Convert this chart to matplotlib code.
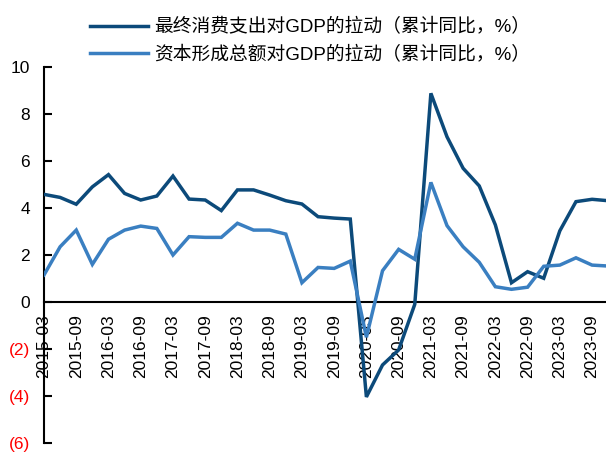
import matplotlib

matplotlib.use("Agg")
import matplotlib.pyplot as plt
from matplotlib.ticker import FixedLocator, FuncFormatter, MultipleLocator

plt.rcParams["font.family"] = ["Liberation Sans", "Noto Sans CJK SC", "DejaVu Sans"]

QUARTERS = [f"{y}-{m:02d}" for y in range(2015, 2024) for m in (3, 6, 9, 12)]

CONSUMPTION = [
    4.58, 4.45, 4.16, 4.90,  # 2015
    5.42, 4.62, 4.34, 4.51,  # 2016
    5.36, 4.38, 4.34, 3.89,  # 2017
    4.77, 4.77, 4.55, 4.31,  # 2018
    4.17, 3.63, 3.57, 3.53,  # 2019
    -4.04, -2.68, -2.04, -0.10,  # 2020
    8.88, 7.03, 5.69, 4.94,  # 2021
    3.28, 0.82, 1.29, 1.01,  # 2022
    3.03, 4.27, 4.37, 4.31,  # 2023
]
CAPITAL = [
    1.15, 2.35, 3.06, 1.60,
    2.67, 3.06, 3.23, 3.13,
    2.00, 2.78, 2.75, 2.75,
    3.35, 3.06, 3.06, 2.89,
    0.82, 1.47, 1.43, 1.74,
    -1.50, 1.33, 2.24, 1.82,
    5.09, 3.25, 2.35, 1.69,
    0.65, 0.54, 0.63, 1.52,
    1.57, 1.88, 1.57, 1.53,
]
LABELS = [
    "最终消费支出对GDP的拉动（累计同比，%）",
    "资本形成总额对GDP的拉动（累计同比，%）",
]
COLORS = ["#0c4a7a", "#3a7fc1"]


def y_label(v, _pos):
    v = int(round(v))
    return f"({abs(v)})" if v < 0 else f"{v}"


def main():
    w, h = 606, 454
    dpi = 100
    fig = plt.figure(figsize=(w / dpi, h / dpi), dpi=dpi)
    ax = fig.add_axes([44 / w, 11 / h, 1 - 44 / w, 376 / h])

    x = list(range(len(QUARTERS)))
    for vals, color, label in zip([CONSUMPTION, CAPITAL], COLORS, LABELS):
        # lines sit above the tick labels, like the original
        ax.plot(x, vals, color=color, linewidth=2.5, label=label,
                solid_joinstyle="miter", zorder=3)

    ax.set_ylim(-6, 10)
    ax.set_xlim(0, 562 / 16.12)

    ax.spines["top"].set_visible(False)
    ax.spines["right"].set_visible(False)
    ax.spines["bottom"].set_position(("data", 0))
    for s in ("left", "bottom"):
        ax.spines[s].set_linewidth(1.5)
        ax.spines[s].set_color("black")

    ax.yaxis.set_major_locator(MultipleLocator(2))
    ax.yaxis.set_major_formatter(FuncFormatter(y_label))
    ax.tick_params(axis="y", direction="in", length=6, width=1.5,
                   labelsize=12.5, pad=10)
    for t in ax.get_yticklabels():
        if t.get_text().startswith("("):
            t.set_color("#ff0000")

    ticks = x[::2]
    ax.xaxis.set_major_locator(FixedLocator(ticks))
    ax.set_xticklabels(QUARTERS[::2], rotation=90)
    ax.tick_params(axis="x", length=0, labelsize=12.5, pad=9)

    fig.legend(
        loc="center",
        bbox_to_anchor=(310 / w, 1 - 41 / h),
        frameon=False,
        fontsize=13.5,
        handlelength=3.1,
        handletextpad=0.3,
        labelspacing=0.5,
    )

    fig.savefig("out.png", dpi=dpi)


if __name__ == "__main__":
    main()
